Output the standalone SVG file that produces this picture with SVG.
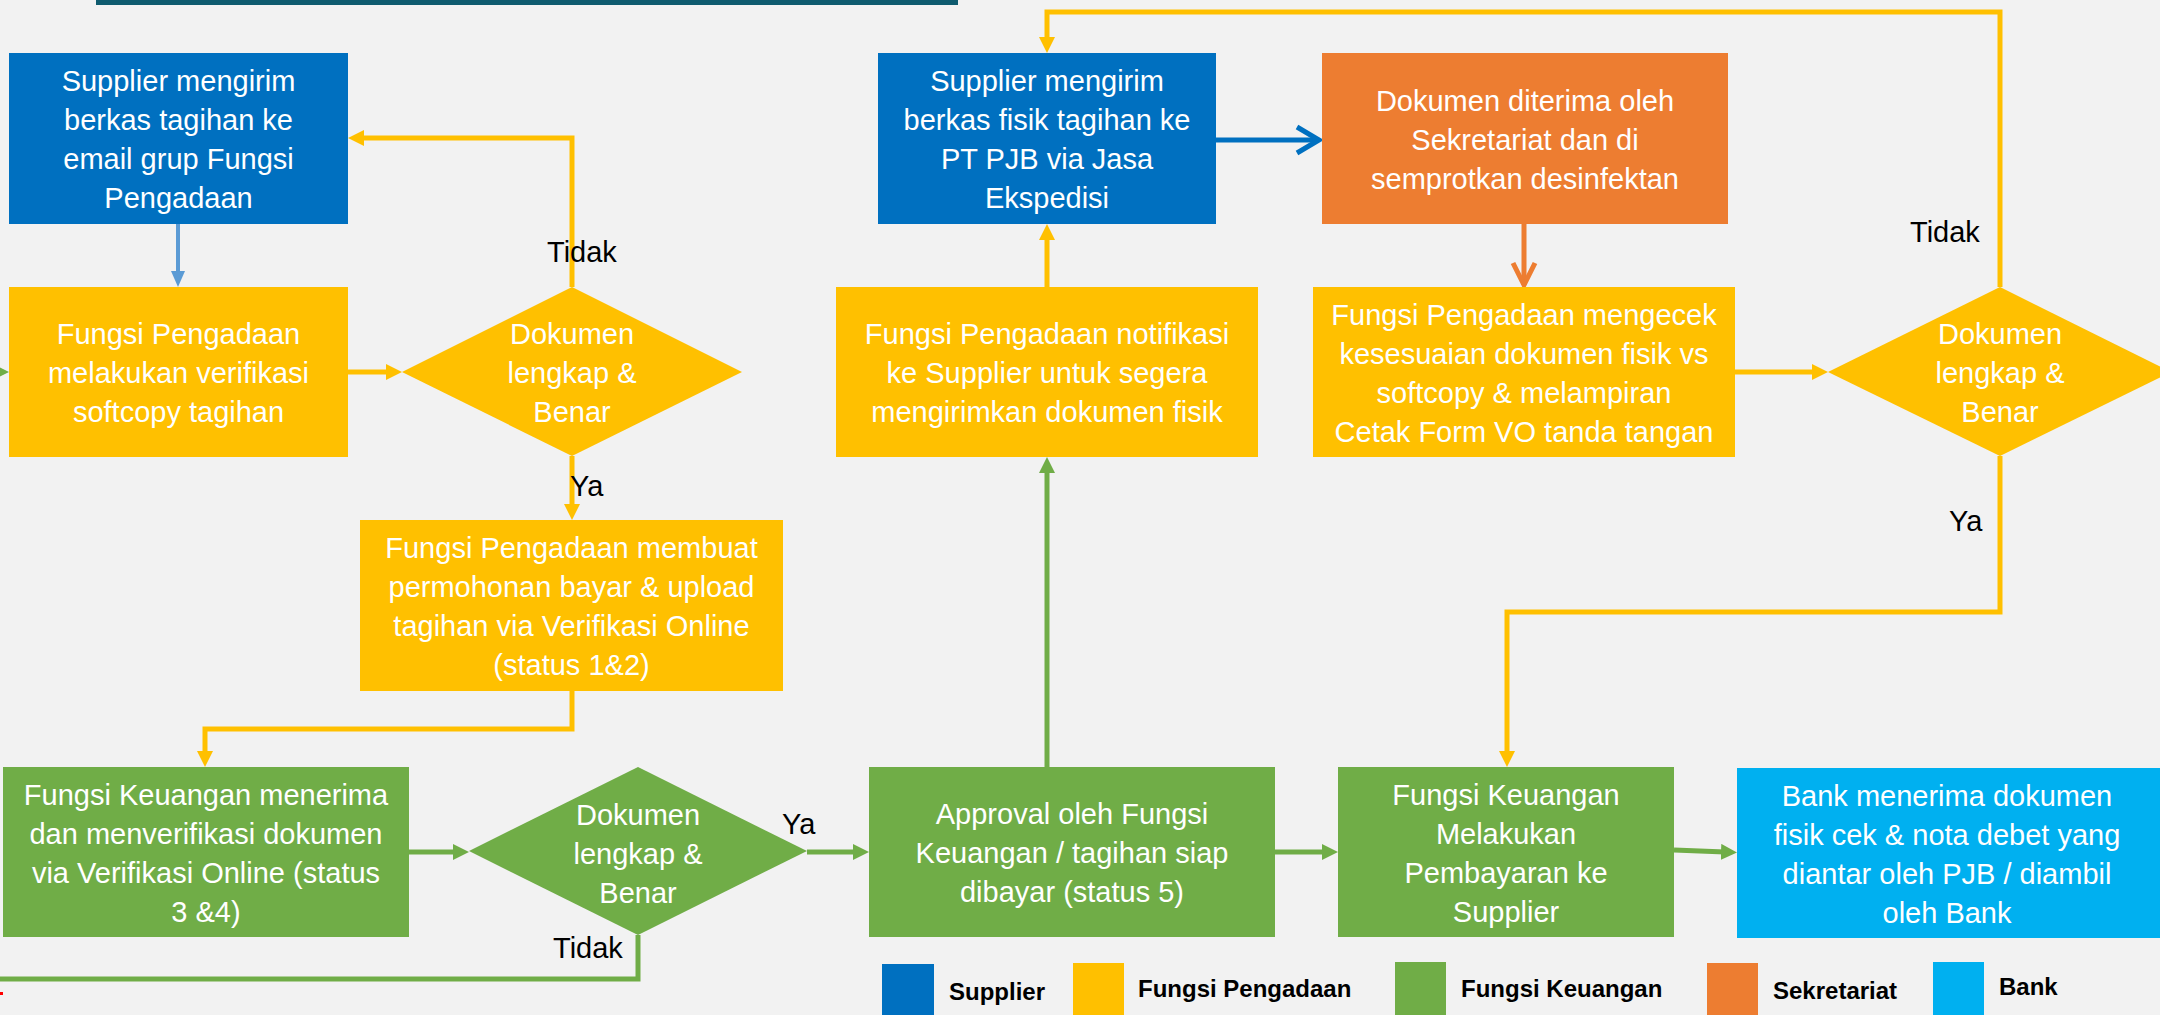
<svg xmlns="http://www.w3.org/2000/svg" width="2160" height="1015" viewBox="0 0 2160 1015">
<style>
.t{font-family:"Liberation Sans",Arial,sans-serif;font-size:29px;fill:#fff;text-anchor:middle}
.l{font-family:"Liberation Sans",Arial,sans-serif;font-size:29px;fill:#000}
.lg{font-family:"Liberation Sans",Arial,sans-serif;font-size:24px;font-weight:bold;fill:#000}
.sup{fill:#0070c0}.pen{fill:#ffc000}.keu{fill:#70ad47}.sek{fill:#ed7d31}.bank{fill:#00b0f0}
.cy{fill:none;stroke:#ffc000;stroke-width:5}
.cg{fill:none;stroke:#70ad47;stroke-width:5}
</style>
<defs>
<marker id="ay" markerUnits="userSpaceOnUse" viewBox="0 0 16 16" markerWidth="16" markerHeight="16" refX="4" refY="8" orient="auto"><path d="M0,0 L16,8 L0,16 z" fill="#ffc000"/></marker>
<marker id="ag" markerUnits="userSpaceOnUse" viewBox="0 0 16 16" markerWidth="16" markerHeight="16" refX="4" refY="8" orient="auto"><path d="M0,0 L16,8 L0,16 z" fill="#70ad47"/></marker>
<marker id="ab" markerUnits="userSpaceOnUse" viewBox="0 0 16 16" markerWidth="16" markerHeight="16" refX="4" refY="8" orient="auto"><path d="M0,1 L16,8 L0,15 z" fill="#5b9bd5"/></marker>
<marker id="cb" markerUnits="userSpaceOnUse" viewBox="-4 -4 30 34" markerWidth="30" markerHeight="34" refX="22" refY="13" orient="auto" overflow="visible"><path d="M0,0 L22,13 L0,26" fill="none" stroke="#0070c0" stroke-width="5"/></marker>
<marker id="co" markerUnits="userSpaceOnUse" viewBox="-4 -4 30 34" markerWidth="30" markerHeight="34" refX="22" refY="11" orient="auto" overflow="visible"><path d="M0,0 L22,11 L0,22" fill="none" stroke="#ed7d31" stroke-width="5"/></marker>
</defs>
<rect width="2160" height="1015" fill="#f2f2f2"/>
<rect x="96" y="0" width="862" height="5" fill="#0f5b6f"/>

<g id="connectors">
<path d="M178,224 V275" fill="none" stroke="#5b9bd5" stroke-width="4" marker-end="url(#ab)"/>
<path class="cy" d="M348,372 H390" marker-end="url(#ay)"/>
<path class="cy" d="M572,287 V138 H360" marker-end="url(#ay)"/>
<path class="cy" d="M572,456 V508" marker-end="url(#ay)"/>
<path class="cy" d="M572,691 V729 H205 V755" marker-end="url(#ay)"/>
<path class="cg" d="M409,852 H457" marker-end="url(#ag)"/>
<path class="cg" d="M807,852 H857" marker-end="url(#ag)"/>
<path class="cg" d="M638,935 V979 H-10"/>
<path class="cg" d="M-20,372 H-3" marker-end="url(#ag)"/>
<path class="cg" d="M1047,767 V469" marker-end="url(#ag)"/>
<path class="cy" d="M1047,287 V236" marker-end="url(#ay)"/>
<path d="M1216,140 H1319" fill="none" stroke="#0070c0" stroke-width="5" marker-end="url(#cb)"/>
<path d="M1524,224 V285" fill="none" stroke="#ed7d31" stroke-width="5" marker-end="url(#co)"/>
<path class="cy" d="M1735,372 H1816" marker-end="url(#ay)"/>
<path class="cy" d="M2000,287 V12 H1047 V41" marker-end="url(#ay)"/>
<path class="cy" d="M2000,456 V612 H1507 V755" marker-end="url(#ay)"/>
<path class="cg" d="M1275,852 H1326" marker-end="url(#ag)"/>
<path class="cg" d="M1674,850 L1725,852" marker-end="url(#ag)"/>
<text class="l" x="547" y="262">Tidak</text>
<text class="l" x="570" y="496">Ya</text>
<text class="l" x="1910" y="242">Tidak</text>
<text class="l" x="1949" y="531">Ya</text>
<text class="l" x="782" y="834">Ya</text>
<text class="l" x="553" y="958">Tidak</text>
</g>

<g id="n-supplier1">
<rect class="sup" x="9" y="53" width="339" height="171"/>
<text class="t"><tspan x="178.5" y="91">Supplier mengirim</tspan><tspan x="178.5" y="130">berkas tagihan ke</tspan><tspan x="178.5" y="169">email grup Fungsi</tspan><tspan x="178.5" y="208">Pengadaan</tspan></text>
</g>
<g id="n-verifikasi">
<rect class="pen" x="9" y="287" width="339" height="170"/>
<text class="t"><tspan x="178.5" y="344">Fungsi Pengadaan</tspan><tspan x="178.5" y="383">melakukan verifikasi</tspan><tspan x="178.5" y="422">softcopy tagihan</tspan></text>
</g>
<g id="n-dec1">
<polygon class="pen" points="572,287 742,372 572,456 402,372"/>
<text class="t"><tspan x="572" y="344">Dokumen</tspan><tspan x="572" y="383">lengkap &amp;</tspan><tspan x="572" y="422">Benar</tspan></text>
</g>
<g id="n-membuat">
<rect class="pen" x="360" y="520" width="423" height="171"/>
<text class="t"><tspan x="571.5" y="558">Fungsi Pengadaan membuat</tspan><tspan x="571.5" y="597">permohonan bayar &amp; upload</tspan><tspan x="571.5" y="636">tagihan via Verifikasi Online</tspan><tspan x="571.5" y="675">(status 1&amp;2)</tspan></text>
</g>
<g id="n-keu1">
<rect class="keu" x="3" y="767" width="406" height="170"/>
<text class="t"><tspan x="206" y="805">Fungsi Keuangan menerima</tspan><tspan x="206" y="844">dan menverifikasi dokumen</tspan><tspan x="206" y="883">via Verifikasi Online (status</tspan><tspan x="206" y="922">3 &amp;4)</tspan></text>
</g>
<g id="n-dec3">
<polygon class="keu" points="638,767 807,851 638,935 469,851"/>
<text class="t"><tspan x="638" y="825">Dokumen</tspan><tspan x="638" y="864">lengkap &amp;</tspan><tspan x="638" y="903">Benar</tspan></text>
</g>
<g id="n-approval">
<rect class="keu" x="869" y="767" width="406" height="170"/>
<text class="t"><tspan x="1072" y="824">Approval oleh Fungsi</tspan><tspan x="1072" y="863">Keuangan / tagihan siap</tspan><tspan x="1072" y="902">dibayar (status 5)</tspan></text>
</g>
<g id="n-notifikasi">
<rect class="pen" x="836" y="287" width="422" height="170"/>
<text class="t"><tspan x="1047" y="344">Fungsi Pengadaan notifikasi</tspan><tspan x="1047" y="383">ke Supplier untuk segera</tspan><tspan x="1047" y="422">mengirimkan dokumen fisik</tspan></text>
</g>
<g id="n-supplier2">
<rect class="sup" x="878" y="53" width="338" height="171"/>
<text class="t"><tspan x="1047" y="91">Supplier mengirim</tspan><tspan x="1047" y="130">berkas fisik tagihan ke</tspan><tspan x="1047" y="169">PT PJB via Jasa</tspan><tspan x="1047" y="208">Ekspedisi</tspan></text>
</g>
<g id="n-sekretariat">
<rect class="sek" x="1322" y="53" width="406" height="171"/>
<text class="t"><tspan x="1525" y="111">Dokumen diterima oleh</tspan><tspan x="1525" y="150">Sekretariat dan di</tspan><tspan x="1525" y="189">semprotkan desinfektan</tspan></text>
</g>
<g id="n-mengecek">
<rect class="pen" x="1313" y="287" width="422" height="170"/>
<text class="t"><tspan x="1524" y="325">Fungsi Pengadaan mengecek</tspan><tspan x="1524" y="364">kesesuaian dokumen fisik vs</tspan><tspan x="1524" y="403">softcopy &amp; melampiran</tspan><tspan x="1524" y="442">Cetak Form VO tanda tangan</tspan></text>
</g>
<g id="n-dec2">
<polygon class="pen" points="2000,287 2171,372 2000,456 1828,372"/>
<text class="t"><tspan x="2000" y="344">Dokumen</tspan><tspan x="2000" y="383">lengkap &amp;</tspan><tspan x="2000" y="422">Benar</tspan></text>
</g>
<g id="n-pembayaran">
<rect class="keu" x="1338" y="767" width="336" height="170"/>
<text class="t"><tspan x="1506" y="805">Fungsi Keuangan</tspan><tspan x="1506" y="844">Melakukan</tspan><tspan x="1506" y="883">Pembayaran ke</tspan><tspan x="1506" y="922">Supplier</tspan></text>
</g>
<g id="n-bank">
<rect class="bank" x="1737" y="768" width="423" height="170"/>
<text class="t"><tspan x="1947" y="806">Bank menerima dokumen</tspan><tspan x="1947" y="845">fisik cek &amp; nota debet yang</tspan><tspan x="1947" y="884">diantar oleh PJB / diambil</tspan><tspan x="1947" y="923">oleh Bank</tspan></text>
</g>

<g id="legend">
<rect class="sup" x="882" y="964" width="52" height="51"/>
<text class="lg" x="949" y="1000">Supplier</text>
<rect class="pen" x="1073" y="963" width="51" height="52"/>
<text class="lg" x="1138" y="997">Fungsi Pengadaan</text>
<rect class="keu" x="1395" y="962" width="51" height="53"/>
<text class="lg" x="1461" y="997">Fungsi Keuangan</text>
<rect class="sek" x="1707" y="963" width="51" height="52"/>
<text class="lg" x="1773" y="999">Sekretariat</text>
<rect class="bank" x="1933" y="962" width="51" height="53"/>
<text class="lg" x="1999" y="995">Bank</text>
</g>
<rect x="0" y="992" width="3" height="3" fill="#ff0000"/>
</svg>
